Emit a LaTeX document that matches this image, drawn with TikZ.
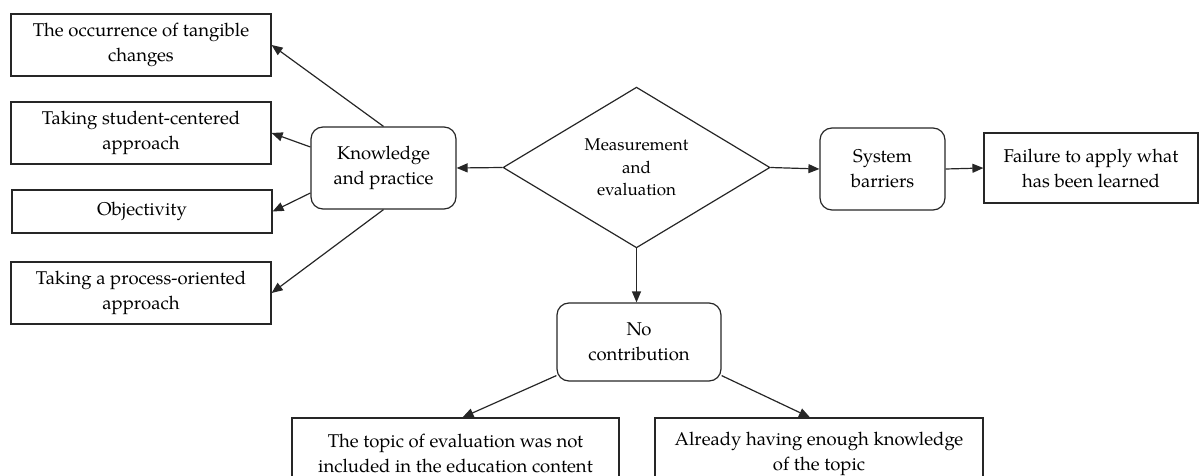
\documentclass[tikz,border=0pt]{standalone}
\usepackage{fontspec}
\setmainfont{TeX Gyre Pagella}
\usetikzlibrary{shapes.geometric,arrows.meta,calc}
\begin{document}
\begin{tikzpicture}[x=1pt,y=-1pt,
  line width=1.2pt,
  every node/.style={draw=black!85, line width=1.2pt, inner sep=0pt, align=center,
    font=\fontsize{18.5}{25}\selectfont},
  sqbox/.style={rectangle},
  rbox/.style={rectangle, rounded corners=12pt},
  dbox/.style={diamond, font=\fontsize{17}{22.5}\selectfont},
  arr/.style={draw=black!85, -{Triangle[length=11pt,width=9pt]}}
]
\useasboundingbox (0,0) rectangle (1199,476);
\clip (0,0) rectangle (1199,476);

\node[sqbox, minimum width=260, minimum height=62] (b1) at (141,45) {The occurrence of tangible\\changes};
\node[sqbox, minimum width=260, minimum height=62] (b2) at (141,133) {Taking student-centered\\approach};
\node[sqbox, minimum width=260, minimum height=43] (b3) at (142,211.5) {Objectivity};
\node[sqbox, minimum width=260, minimum height=62] (b4) at (141,293) {Taking a process-oriented\\approach};

\node[rbox, minimum width=145, minimum height=82] (kp) at (383.5,168) {Knowledge\\and practice};
\node[dbox, minimum width=267, minimum height=159] (me) at (636.5,167.5) {Measurement\\and\\evaluation};
\node[rbox, minimum width=125, minimum height=82] (sb) at (882.5,169) {System\\barriers};
\node[sqbox, minimum width=214, minimum height=70] (fa) at (1091,168) {Failure to apply what\\has been learned};
\node[rbox, minimum width=164, minimum height=78] (nc) at (639,342) {No\\contribution};
\node[sqbox, minimum width=327, minimum height=71] (bl) at (455.5,453.5) {The topic of evaluation was not\\included in the education content};
\node[sqbox, minimum width=328, minimum height=71] (br) at (819,453.5) {Already having enough knowledge\\of the topic};

\draw[arr] (kp.north) -- (b1.east);
\draw[arr] ($(kp.west)+(0,-21)$) -- (b2.east);
\draw[arr] ($(kp.west)+(0,25)$) -- (b3.east);
\draw[arr] (kp.south) -- (b4.east);
\draw[arr] (me.west) -- (kp.east);
\draw[arr] (me.east) -- (sb.west);
\draw[arr] (sb.east) -- (fa.west);
\draw[arr] (me.south) -- (me.south |- nc.north);
\draw[arr] ($(nc.south west)+(0,-6)$) -- ($(bl.north)+(7,0)$);
\draw[arr] ($(nc.south east)+(0,-6)$) -- ($(br.north)+(-9,0)$);
\end{tikzpicture}
\end{document}
